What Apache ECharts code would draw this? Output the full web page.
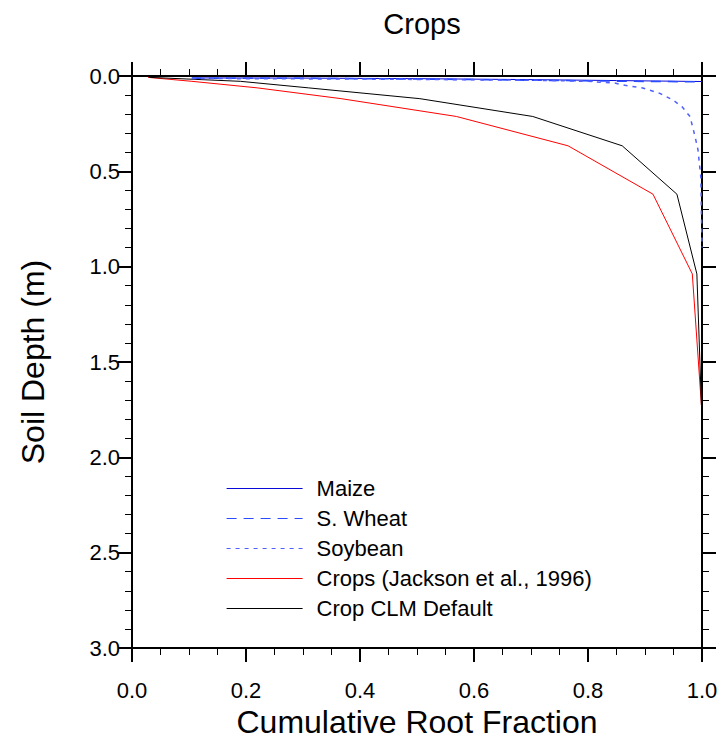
<!DOCTYPE html>
<html>
<head>
<meta charset="utf-8">
<title>Crops</title>
<script src="https://cdn.jsdelivr.net/npm/echarts@6/dist/echarts.min.js"></script>
<style>
  html, body { margin: 0; padding: 0; background: #fff; }
  #chart { width: 724px; height: 754px; }
</style>
</head>
<body>
<div id="chart"></div>
<script>
// Soil layer depths (m) at which the two profile curves are sampled
const layerDepth = [0.0071, 0.0279, 0.0623, 0.1189, 0.2122, 0.3661, 0.6198, 1.0380, 1.7276];

// Cumulative root fraction per layer
const jacksonFrac = [0.028, 0.105, 0.220, 0.367, 0.569, 0.765, 0.914, 0.983, 0.999];
const clmDefaultFrac = [0.030, 0.190, 0.310, 0.505, 0.703, 0.860, 0.956, 0.991, 0.999];

// Crop-specific profiles (fraction, depth m)
const maizeFrac = [0.105, 0.300, 0.500, 0.700, 0.850, 1.000];
const maizeDepth = [0.010, 0.011, 0.014, 0.019, 0.024, 0.029];

const wheatFrac = [0.105, 0.300, 0.500, 0.700, 0.850, 1.000];
const wheatDepth = [0.012, 0.012, 0.016, 0.022, 0.027, 0.031];

const soyFrac = [0.105, 0.400, 0.700, 0.800, 0.847, 0.865, 0.896, 0.926, 0.949, 0.965, 0.979, 0.988, 0.993, 0.996, 0.998, 1.000];
const soyDepth = [0.013, 0.016, 0.022, 0.028, 0.037, 0.049, 0.063, 0.091, 0.126, 0.161, 0.213, 0.320, 0.388, 0.477, 0.530, 0.900];

// Axis ticks
const xTicks = [0.0, 0.2, 0.4, 0.6, 0.8, 1.0];
const yTicks = [0.0, 0.5, 1.0, 1.5, 2.0, 2.5, 3.0];

// Line styles per curve, shared by the plot and the legend
const styles = {
  'Maize': { color: '#0a0ad8', width: 1, type: 'solid' },
  'S. Wheat': { color: '#2a4bff', width: 1.5, type: [10, 7] },
  'Soybean': { color: '#5060ff', width: 1.5, type: [4, 5] },
  'Crops (Jackson et al., 1996)': { color: '#ff0000', width: 1, type: 'solid' },
  'Crop CLM Default': { color: '#000000', width: 1, type: 'solid' }
};
const legendNames = Object.keys(styles);

const pairs = (xs, ys) => xs.map((v, i) => [v, ys[i]]);

const FONT = '"Liberation Sans", Arial, Helvetica, sans-serif';

const axisLine = { show: true, onZero: false, lineStyle: { color: '#000', width: 2 } };
const majorTick = { show: true, inside: false, length: 14, lineStyle: { color: '#000', width: 2 } };
const minorTick = (n) => ({ show: true, splitNumber: n, length: 7, lineStyle: { color: '#000', width: 1 } });

const lineSeries = (name, xs, ys) => ({
  name, type: 'line', symbol: 'none',
  data: pairs(xs, ys),
  lineStyle: styles[name],
  itemStyle: { color: styles[name].color }
});

const chart = echarts.init(document.getElementById('chart'), null, { renderer: 'svg' });

chart.setOption({
  animation: false,
  backgroundColor: '#fff',
  title: {
    text: 'Crops',
    left: 417,
    top: 4,
    textAlign: 'center',
    textStyle: { fontFamily: FONT, fontSize: 29, fontWeight: 'normal', color: '#000' }
  },
  grid: { left: 132, right: 22, top: 76, bottom: 106, containLabel: false },
  legend: {
    data: legendNames.map(name => ({
      name,
      itemStyle: { opacity: 0 },
      lineStyle: { color: styles[name].color, width: 1.2, type: styles[name].type }
    })),
    orient: 'vertical',
    left: 221,
    top: 472.5,
    itemWidth: 76,
    itemHeight: 14,
    itemGap: 8,
    textStyle: { fontFamily: FONT, fontSize: 22, color: '#000', padding: [0, 0, 0, 9] },
    selectedMode: false
  },
  xAxis: [
    {
      type: 'value', position: 'bottom', min: 0, max: 1, interval: 0.2,
      axisLine, axisTick: majorTick, minorTick: minorTick(4),
      splitLine: { show: false },
      axisLabel: {
        fontFamily: FONT, fontSize: 22, color: '#000', margin: 31,
        formatter: (v) => xTicks.find(t => Math.abs(t - v) < 1e-9).toFixed(1)
      },
      name: 'Cumulative Root Fraction', nameLocation: 'middle', nameGap: 42,
      nameTextStyle: { fontFamily: FONT, fontSize: 32, color: '#000' }
    },
    {
      type: 'value', position: 'top', min: 0, max: 1, interval: 0.2,
      axisLine, axisTick: majorTick, minorTick: minorTick(4),
      splitLine: { show: false }, axisLabel: { show: false }
    }
  ],
  yAxis: [
    {
      type: 'value', position: 'left', inverse: true, min: 0, max: 3, interval: 0.5,
      axisLine, axisTick: majorTick, minorTick: minorTick(5),
      splitLine: { show: false },
      axisLabel: {
        fontFamily: FONT, fontSize: 22, color: '#000', margin: 12,
        formatter: (v) => yTicks.find(t => Math.abs(t - v) < 1e-9).toFixed(1)
      },
      name: 'Soil Depth (m)', nameLocation: 'middle', nameGap: 83, nameRotate: 90,
      nameTextStyle: { fontFamily: FONT, fontSize: 32, color: '#000' }
    },
    {
      type: 'value', position: 'right', inverse: true, min: 0, max: 3, interval: 0.5,
      axisLine, axisTick: majorTick, minorTick: minorTick(5),
      splitLine: { show: false }, axisLabel: { show: false }
    }
  ],
  series: [
    lineSeries('Crops (Jackson et al., 1996)', jacksonFrac, layerDepth),
    lineSeries('Crop CLM Default', clmDefaultFrac, layerDepth),
    lineSeries('Maize', maizeFrac, maizeDepth),
    lineSeries('S. Wheat', wheatFrac, wheatDepth),
    lineSeries('Soybean', soyFrac, soyDepth)
  ]
});
</script>
</body>
</html>
